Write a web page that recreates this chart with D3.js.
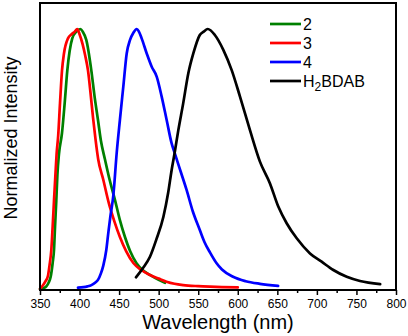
<!DOCTYPE html>
<html>
<head>
<meta charset="utf-8">
<script src="https://cdn.jsdelivr.net/npm/d3@7"></script>
<style>
  html, body { margin: 0; padding: 0; background: #fff; }
  svg { display: block; }
</style>
</head>
<body>
<div id="chart"></div>
<script>
// Normalized emission spectra — D3

// Series names (legend order)
const seriesNames = ['2', '3', '4', 'H2BDAB'];
const seriesColors = ['#008000', '#ff0000', '#0000ff', '#000000'];

// 2 (green)
const wl2 = [350, 355, 358, 361, 363.5, 366, 367.7, 369, 370.6, 372, 374, 377.8, 381.2, 384.5, 390.8, 396, 401, 404, 408.5, 414.9, 419, 423.3, 427, 432, 438, 444.8, 451, 457.4, 464, 472, 480, 489, 500, 508];
const int2 = [0, 0.004, 0.01, 0.025, 0.047, 0.1, 0.15, 0.24, 0.34, 0.44, 0.52, 0.6, 0.715, 0.84, 0.964, 0.99, 1.0, 0.99, 0.958, 0.84, 0.74, 0.65, 0.57, 0.5, 0.42, 0.342, 0.265, 0.2, 0.145, 0.099, 0.072, 0.054, 0.035, 0.024];

// 3 (red)
const wl3 = [350, 354, 357, 360, 362, 364.3, 366, 367.7, 369.5, 371, 373, 375.3, 377.8, 380.3, 385.4, 390, 394, 397, 400, 404, 407, 410.7, 414, 417, 420, 423.5, 430, 437, 444, 451, 459, 468, 478, 489, 500, 510, 520, 531, 550, 565, 580, 600];
const int3 = [0, 0.015, 0.03, 0.05, 0.09, 0.15, 0.24, 0.34, 0.44, 0.52, 0.59, 0.715, 0.84, 0.906, 0.964, 0.98, 0.99, 1.0, 0.98, 0.94, 0.9, 0.84, 0.75, 0.66, 0.58, 0.5, 0.42, 0.33, 0.26, 0.2, 0.145, 0.1, 0.073, 0.054, 0.04, 0.028, 0.02, 0.015, 0.011, 0.009, 0.0075, 0.006];

// 4 (blue)
const wl4 = [398, 405, 410, 415, 420, 423.3, 427, 430, 433.8, 436.5, 439, 442.7, 447, 451, 455.3, 459.6, 463.8, 468, 472.2, 475, 478.5, 484.9, 491.2, 497.5, 503.8, 510.1, 516.4, 520.6, 528, 535.4, 543, 552, 558, 565, 573, 580, 594, 610, 628, 651];
const int4 = [0.005, 0.007, 0.01, 0.015, 0.025, 0.035, 0.06, 0.09, 0.15, 0.22, 0.28, 0.36, 0.525, 0.65, 0.778, 0.906, 0.958, 0.985, 1.0, 0.99, 0.964, 0.906, 0.855, 0.817, 0.74, 0.65, 0.56, 0.52, 0.45, 0.38, 0.3, 0.227, 0.18, 0.14, 0.1, 0.075, 0.047, 0.03, 0.02, 0.012];

// H2BDAB (black)
const wlB = [471.3, 480, 489, 497, 506, 512, 516.4, 520, 524.8, 531, 537.5, 543.8, 552, 557, 562, 571, 581.7, 592.3, 602.8, 615.5, 628, 640.7, 651.2, 661.8, 674.5, 691.3, 706, 720.8, 737.7, 754.5, 780];
const intB = [0.045, 0.08, 0.124, 0.19, 0.278, 0.37, 0.458, 0.52, 0.61, 0.714, 0.83, 0.906, 0.977, 0.99, 1.0, 0.977, 0.92, 0.842, 0.74, 0.61, 0.49, 0.406, 0.317, 0.253, 0.195, 0.137, 0.105, 0.073, 0.047, 0.031, 0.019];

// Axis ticks
const xMajorTicks = [350, 400, 450, 500, 550, 600, 650, 700, 750, 800];
const xMinorTicks = [375, 425, 475, 525, 575, 625, 675, 725, 775];

const W = 408, H = 336;
const L = 40, R = 396, T = 3, B = 290;
const FONT = 'Arial, "Liberation Sans", Helvetica, sans-serif';

const svg = d3.select('#chart')
  .append('svg')
  .attr('width', W)
  .attr('height', H);

const x = d3.scaleLinear().domain([350, 800]).range([L, R]);
const y = d3.scaleLinear().domain([0, 1.1]).range([B - 1, T]);

// Curves
const series = [
  { wl: wl2, iv: int2 },
  { wl: wl3, iv: int3 },
  { wl: wl4, iv: int4 },
  { wl: wlB, iv: intB }
];

const line = d3.line()
  .x(function(d) { return x(d[0]); })
  .y(function(d) { return y(d[1]); })
  .curve(d3.curveMonotoneX);

const plotG = svg.append('g');
series.forEach(function(s, i) {
  const pts = s.wl.map(function(w, j) { return [w, s.iv[j]]; });
  plotG.append('path')
    .attr('d', line(pts))
    .attr('fill', 'none')
    .attr('stroke', seriesColors[i])
    .attr('stroke-width', 2.7)
    .attr('stroke-linejoin', 'round')
    .attr('stroke-linecap', 'round');
});

// Frame
svg.append('rect')
  .attr('x', L)
  .attr('y', T)
  .attr('width', R - L)
  .attr('height', B - T)
  .attr('fill', 'none')
  .attr('stroke', '#000')
  .attr('stroke-width', 2);

// Bottom axis: major + minor ticks
const xAxis = d3.axisBottom(x)
  .tickValues(xMajorTicks)
  .tickSize(5)
  .tickSizeOuter(0)
  .tickPadding(4)
  .tickFormat(d3.format('d'));

const axG = svg.append('g')
  .attr('transform', 'translate(0,' + B + ')')
  .call(xAxis);
axG.select('.domain').remove();
axG.selectAll('.tick line').attr('stroke', '#000').attr('stroke-width', 1.5);
axG.selectAll('.tick text')
  .attr('font-family', FONT)
  .attr('font-size', 12)
  .attr('fill', '#000');

const minorG = svg.append('g')
  .attr('transform', 'translate(0,' + B + ')')
  .call(d3.axisBottom(x).tickValues(xMinorTicks).tickSize(3).tickFormat(''));
minorG.select('.domain').remove();
minorG.selectAll('.tick line').attr('stroke', '#000').attr('stroke-width', 1.5);

// Axis titles
svg.append('text')
  .attr('x', (L + R) / 2)
  .attr('y', 329)
  .attr('text-anchor', 'middle')
  .attr('font-family', FONT)
  .attr('font-size', 20)
  .attr('fill', '#000')
  .text('Wavelength (nm)');

svg.append('text')
  .attr('transform', 'translate(17,' + 138 + ') rotate(-90)')
  .attr('text-anchor', 'middle')
  .attr('font-family', FONT)
  .attr('font-size', 18)
  .attr('fill', '#000')
  .text('Normalized Intensity');

// Legend
const legendY = [24, 43, 62, 81];
const legendG = svg.append('g');
seriesNames.forEach(function(name, i) {
  legendG.append('line')
    .attr('x1', 270).attr('x2', 301)
    .attr('y1', legendY[i]).attr('y2', legendY[i])
    .attr('stroke', seriesColors[i])
    .attr('stroke-width', 2.7);

  const t = legendG.append('text')
    .attr('x', 303)
    .attr('y', legendY[i] + 6)
    .attr('font-family', FONT)
    .attr('font-size', 16)
    .attr('fill', '#000');

  if (name === 'H2BDAB') {
    t.append('tspan').text('H');
    t.append('tspan').attr('font-size', 12).attr('dy', 4).text('2');
    t.append('tspan').attr('dy', -4).text('BDAB');
  } else {
    t.text(name);
  }
});
</script>
</body>
</html>
